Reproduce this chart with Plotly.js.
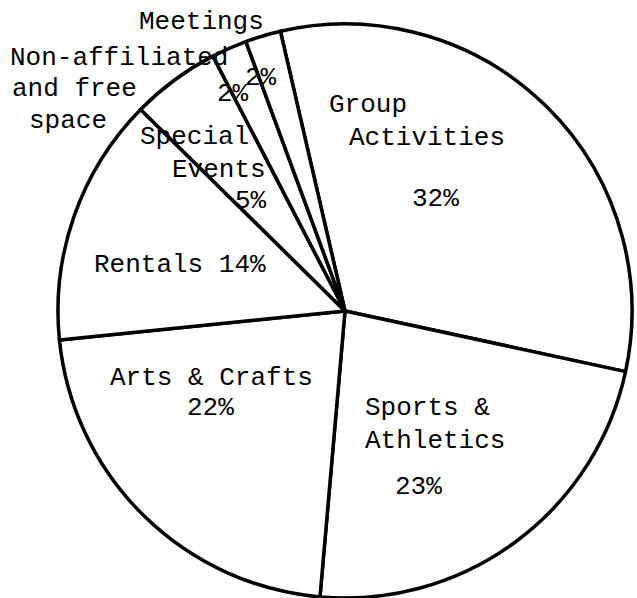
<!DOCTYPE html>
<html>
<head>
<meta charset="utf-8">
<script src="https://cdn.plot.ly/plotly-3.0.1.min.js"></script>
<style>html,body{margin:0;padding:0;background:#fff;}#chart{width:637px;height:598px;}</style>
</head>
<body>
<div id="chart"></div>
<script>
// Data
const categories = ["Group Activities", "Sports & Athletics", "Arts & Crafts", "Rentals", "Special Events", "Non-affiliated and free space", "Meetings"];
const shares = [32, 23, 22, 14, 5, 2, 2];

// Label lines drawn as text annotations (text, left x px, centre y px)
const labelLines = [
  ["Meetings", 137, 22],
  ["Non-affiliated", 8, 58],
  ["and free", 10, 89],
  ["space", 27, 121],
  ["2%", 243, 78],
  ["2%", 215, 94],
  ["Special", 138, 137],
  ["Events", 170, 170],
  ["5%", 233, 201],
  ["Rentals 14%", 92, 265],
  ["Group", 327, 105],
  ["Activities", 347, 138],
  ["32%", 410, 199],
  ["Arts & Crafts", 108, 378],
  ["22%", 185, 408],
  ["Sports &", 363, 408],
  ["Athletics", 363, 441],
  ["23%", 393, 487]
];

const W = 637, H = 598;
const font = {family: "Liberation Mono, DejaVu Sans Mono, monospace", size: 26, color: "#000"};

const trace = {
  type: "pie",
  labels: categories,
  values: shares,
  sort: false,
  direction: "clockwise",
  rotation: -13,
  textinfo: "none",
  hoverinfo: "label+percent",
  marker: {colors: categories.map(() => "#ffffff"), line: {color: "#000", width: 3.5}},
  domain: {x: [0.0895, 0.9937], y: [0, 0.96]},
  showlegend: false
};

const annotations = labelLines.map(([t, x, y]) => ({
  text: t, x: x / W, y: 1 - y / H, xref: "paper", yref: "paper",
  xanchor: "left", yanchor: "middle", showarrow: false, font: font
}));

Plotly.newPlot("chart", [trace], {
  width: W, height: H,
  margin: {l: 0, r: 0, t: 0, b: 0},
  paper_bgcolor: "#fff",
  showlegend: false,
  annotations: annotations
}, {displayModeBar: false, staticPlot: true});
</script>
</body>
</html>
